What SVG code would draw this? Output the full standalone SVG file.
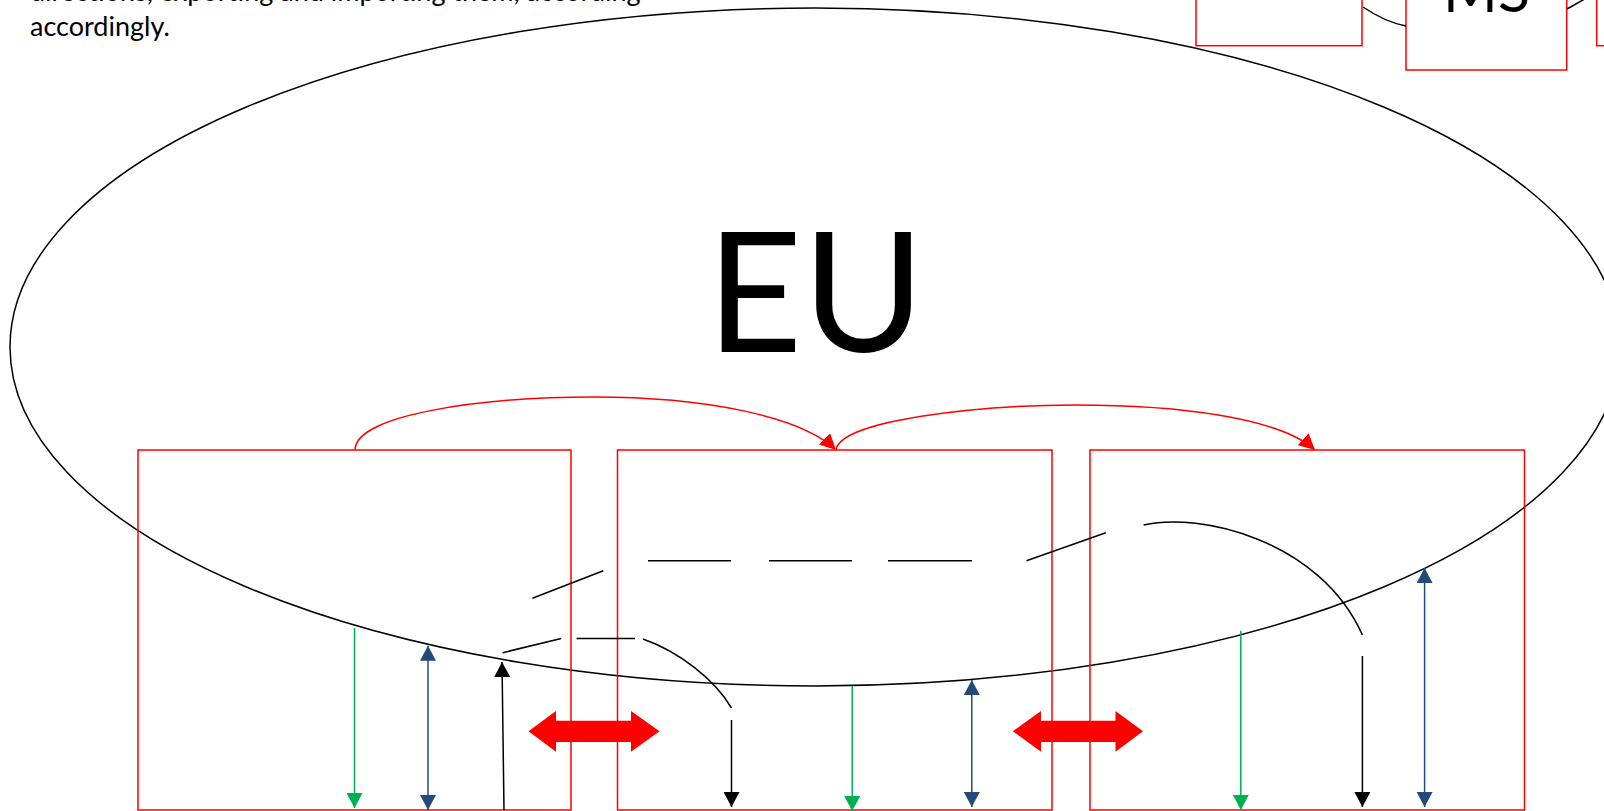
<svg xmlns="http://www.w3.org/2000/svg" width="1604" height="811" viewBox="0 0 1604 811">
<style>
  .box{fill:none;stroke:#FF0000;stroke-width:1.5}
  .ln{fill:none;stroke:#000;stroke-width:1.5}
  .gr{fill:none;stroke:#00B050;stroke-width:1.5}
  .bl{fill:none;stroke:#244A7C;stroke-width:1.5}
  .rc{fill:none;stroke:#FF0000;stroke-width:1.5}
  .blk{fill:#FF0000;stroke:none}
  .txt{font-family:Lato,"Liberation Sans",sans-serif;fill:#000}
</style>
<defs>
  <marker id="mk" viewBox="0 0 15 16" refX="15" refY="8" markerWidth="15" markerHeight="16" markerUnits="userSpaceOnUse" orient="auto-start-reverse" preserveAspectRatio="none"><path d="M0,0 L15,8 L0,16 z" fill="#000"/></marker>
  <marker id="mg" viewBox="0 0 15 16" refX="15" refY="8" markerWidth="15" markerHeight="16" markerUnits="userSpaceOnUse" orient="auto-start-reverse" preserveAspectRatio="none"><path d="M0,0 L15,8 L0,16 z" fill="#00B050"/></marker>
  <marker id="mb" viewBox="0 0 15 16" refX="15" refY="8" markerWidth="15" markerHeight="16" markerUnits="userSpaceOnUse" orient="auto-start-reverse" preserveAspectRatio="none"><path d="M0,0 L15,8 L0,16 z" fill="#244A7C"/></marker>
  <marker id="mr" viewBox="0 0 16 16" refX="16" refY="8" markerWidth="16" markerHeight="16" markerUnits="userSpaceOnUse" orient="auto" preserveAspectRatio="none"><path d="M0,0 L16,8 L0,16 z" fill="#FF0000"/></marker>
</defs>
<rect width="1604" height="811" fill="#fff"/>

<g id="note">
  <text class="txt" x="30" y="1" font-size="27">directions, exporting and importing them, according</text>
  <text class="txt" x="30" y="36" font-size="27">accordingly.</text>
</g>

<g id="eu">
  <ellipse class="ln" cx="815" cy="347" rx="805" ry="339"/>
  <text class="txt" x="815.5" y="352" font-size="166" text-anchor="middle">EU</text>
</g>

<g id="box-left"><rect class="box" x="138" y="450" width="433" height="360"/></g>
<g id="box-mid"><rect class="box" x="617.5" y="450" width="434.5" height="360"/></g>
<g id="box-right"><rect class="box" x="1090" y="450" width="434.5" height="360"/></g>

<g id="top-box-1"><rect class="box" x="1196" y="-10" width="166" height="55.7"/></g>
<g id="top-box-ms">
  <rect class="box" x="1406" y="-10" width="160.7" height="80"/>
  <text class="txt" x="1486.5" y="12" font-size="59" text-anchor="middle">MS</text>
</g>
<g id="top-box-3"><rect class="box" x="1596.7" y="-10" width="30" height="55.7"/></g>

<g id="connectors">
  <path class="ln" d="M1363,7 Q1385,22 1406,26"/>
  <path class="ln" d="M1567,9 L1590,-4"/>

  <path class="rc" d="M355,450 C355,415 480,397 594,397 C700,397 800,415 836,450" marker-end="url(#mr)"/>
  <path class="rc" d="M836,450 C840,420 980,405 1075,405 C1180,405 1280,418 1315,450" marker-end="url(#mr)"/>

  <polygon class="blk" points="528.5,731.3 556,711 556,720.8 631,720.8 631,711 659.5,731.3 631,751.7 631,742 556,742 556,751.7"/>
  <polygon class="blk" points="1012.8,731.3 1041,711 1041,720.8 1115.5,720.8 1115.5,711 1143,731.3 1115.5,751.7 1115.5,742 1041,742 1041,751.7"/>

  <line class="ln" x1="532.4" y1="598.3" x2="603.3" y2="570.7"/>
  <line class="ln" x1="648" y1="560.7" x2="731" y2="560.7"/>
  <line class="ln" x1="769" y1="560.7" x2="852" y2="560.7"/>
  <line class="ln" x1="888" y1="560.7" x2="972" y2="560.7"/>
  <line class="ln" x1="1026.5" y1="560.7" x2="1105.8" y2="532.7"/>
  <path class="ln" d="M1143.6,525 C1200,512 1320,540 1362.4,635"/>
  <line class="ln" x1="1362.4" y1="656" x2="1362.4" y2="807" marker-end="url(#mk)"/>

  <line class="ln" x1="502.6" y1="652.7" x2="561.2" y2="638.5"/>
  <line class="ln" x1="576.5" y1="638.5" x2="635" y2="638.5"/>
  <path class="ln" d="M643,639 C680,652 715,680 731.5,708"/>
  <line class="ln" x1="731.5" y1="720" x2="731.5" y2="807" marker-end="url(#mk)"/>

  <line class="ln" x1="504" y1="810" x2="502" y2="662" marker-end="url(#mk)"/>

  <line class="gr" x1="354.5" y1="628" x2="354.5" y2="808" marker-end="url(#mg)"/>
  <line class="gr" x1="852.2" y1="686" x2="852.2" y2="811" marker-end="url(#mg)"/>
  <line class="gr" x1="1240.8" y1="630.7" x2="1240.8" y2="810" marker-end="url(#mg)"/>

  <line class="bl" x1="428" y1="645.7" x2="428" y2="810" marker-start="url(#mb)" marker-end="url(#mb)"/>
  <line class="bl" x1="971.8" y1="680" x2="971.8" y2="807" marker-start="url(#mb)" marker-end="url(#mb)"/>
  <line class="bl" x1="1424.6" y1="568" x2="1424.6" y2="807" marker-start="url(#mb)" marker-end="url(#mb)"/>
</g>
</svg>
